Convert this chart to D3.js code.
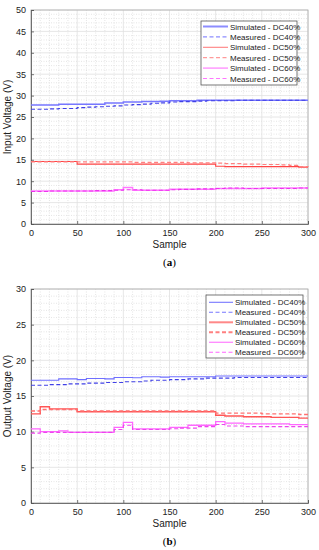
<!DOCTYPE html>
<html><head><meta charset="utf-8">
<script src="https://cdn.jsdelivr.net/npm/d3@7"></script>
<style>body{margin:0;background:#fff}svg{display:block}</style>
</head><body><svg id="c" width="319" height="550"></svg>
<script>
const samples = d3.range(0, 301, 10);
const xTicks = [0, 50, 100, 150, 200, 250, 300];
const yTicksA = [0, 5, 10, 15, 20, 25, 30, 35, 40, 45, 50];
const yTicksB = [0, 5, 10, 15, 20, 25, 30];
const seriesNames = ["Simulated - DC40%", "Measured - DC40%", "Simulated - DC50%", "Measured - DC50%", "Simulated - DC60%", "Measured - DC60%"];

const simDC40a = [27.8,27.8,27.8,28.0,28.0,28.0,28.0,28.0,28.3,28.3,28.5,28.5,28.6,28.6,28.7,28.8,28.8,28.8,28.9,28.9,28.9,28.9,28.9,28.9,28.9,28.9,28.9,28.9,28.9,28.9,28.9];
const measDC40a = [26.8,26.8,26.9,27.0,27.0,27.2,27.3,27.4,27.5,27.6,27.8,27.9,28.0,28.2,28.3,28.5,28.6,28.6,28.7,28.8,28.8,28.8,28.9,28.9,28.9,28.9,28.9,28.9,28.9,28.9,28.9];
const simDC50a = [14.6,14.6,14.6,14.6,14.6,14.0,14.0,14.0,14.0,14.0,14.0,14.0,14.0,14.0,14.0,14.0,14.0,14.0,14.0,14.0,13.5,13.4,13.4,13.4,13.4,13.4,13.4,13.4,13.4,13.3,13.3];
const measDC50a = [14.5,14.5,14.5,14.5,14.5,14.5,14.5,14.5,14.5,14.5,14.5,14.4,14.4,14.4,14.4,14.4,14.4,14.3,14.3,14.3,14.2,14.1,14.1,14.0,14.0,13.9,13.9,13.8,13.7,13.4,13.3];
const simDC60a = [7.7,7.7,7.7,7.7,7.7,7.7,7.7,7.7,7.7,8.0,8.5,7.9,7.9,7.9,7.9,8.1,8.1,8.1,8.1,8.1,8.3,8.3,8.3,8.3,8.3,8.4,8.4,8.4,8.4,8.4,8.4];
const measDC60a = [7.6,7.6,7.7,7.7,7.7,7.7,7.7,7.8,7.8,7.9,8.0,8.0,7.9,7.9,7.9,8.0,8.1,8.1,8.2,8.2,8.3,8.4,8.4,8.3,8.3,8.3,8.3,8.3,8.3,8.4,8.4];

const simDC40b = [17.2,17.2,17.2,17.4,17.4,17.3,17.45,17.45,17.4,17.6,17.6,17.55,17.7,17.7,17.65,17.7,17.7,17.7,17.7,17.7,17.8,17.8,17.8,17.8,17.8,17.8,17.8,17.8,17.8,17.8,17.8];
const measDC40b = [16.5,16.5,16.6,16.6,16.7,16.7,16.8,16.8,16.9,16.9,17.0,17.0,17.1,17.2,17.2,17.3,17.3,17.4,17.4,17.5,17.5,17.5,17.6,17.6,17.6,17.6,17.6,17.6,17.6,17.6,17.6];
const simDC50b = [12.5,13.5,13.2,13.2,13.2,12.8,12.8,12.8,12.8,12.8,12.8,12.8,12.8,12.8,12.8,12.8,12.8,12.8,12.8,12.8,12.3,12.2,12.2,12.1,12.1,12.1,12.0,12.0,12.0,11.9,11.9];
const measDC50b = [12.9,13.1,13.1,13.1,13.1,12.9,12.9,12.9,12.9,12.9,12.9,12.9,12.9,12.9,12.9,12.9,12.9,12.9,12.9,12.9,12.6,12.6,12.6,12.6,12.6,12.5,12.5,12.5,12.5,12.4,12.4];
const simDC60b = [10.4,10.0,10.0,10.1,9.9,9.9,9.9,9.9,9.9,10.6,11.3,10.4,10.4,10.4,10.4,10.6,10.6,10.9,10.9,10.9,11.4,11.2,11.2,11.1,11.1,11.1,11.1,11.1,11.0,11.0,11.0];
const measDC60b = [9.8,9.9,9.9,9.9,9.9,9.9,9.9,9.9,9.9,10.3,10.9,10.3,10.3,10.3,10.3,10.4,10.5,10.5,10.7,10.7,11.0,10.8,10.8,10.7,10.7,10.7,10.7,10.7,10.7,10.7,10.7];

const svg = d3.select("#c");
const FONT = "Liberation Sans, Arial, sans-serif";

function drawChart(cfg) {
  const {top, bottom, left, right, yMax, yTicks, yLabel, tag, series, legend} = cfg;
  const x = d3.scaleLinear().domain([0, 300]).range([left, right]);
  const y = d3.scaleLinear().domain([0, yMax]).range([bottom, top]);
  const g = svg.append("g");
  const minorX = d3.range(0, 301, 10).filter(v => v % 50 !== 0);
  const minorY = d3.range(0, yMax + 0.01, 1).filter(v => v % 5 !== 0);
  g.selectAll(".mx").data(minorX).join("line")
    .attr("x1", d => x(d)).attr("x2", d => x(d)).attr("y1", top).attr("y2", bottom)
    .attr("stroke", "#d4d4d4").attr("stroke-width", 0.6).attr("stroke-dasharray", "1,1.5");
  g.selectAll(".my").data(minorY).join("line")
    .attr("y1", d => y(d)).attr("y2", d => y(d)).attr("x1", left).attr("x2", right)
    .attr("stroke", "#d4d4d4").attr("stroke-width", 0.6).attr("stroke-dasharray", "1,1.5");
  g.selectAll(".gx").data(xTicks).join("line")
    .attr("x1", d => x(d)).attr("x2", d => x(d)).attr("y1", top).attr("y2", bottom)
    .attr("stroke", "#e0e0e0").attr("stroke-width", 0.8);
  g.selectAll(".gy").data(yTicks).join("line")
    .attr("y1", d => y(d)).attr("y2", d => y(d)).attr("x1", left).attr("x2", right)
    .attr("stroke", "#e0e0e0").attr("stroke-width", 0.8);
  g.append("rect").attr("x", left).attr("y", top).attr("width", right - left).attr("height", bottom - top)
    .attr("fill", "none").attr("stroke", "#aaa").attr("stroke-width", 0.8);
  const ax = g.append("g").attr("transform", `translate(0,${bottom})`)
    .call(d3.axisBottom(x).tickValues(xTicks).tickSize(-3).tickPadding(6));
  const ay = g.append("g").attr("transform", `translate(${left},0)`)
    .call(d3.axisLeft(y).tickValues(yTicks).tickSize(-3).tickPadding(5));
  [ax, ay].forEach(a => {
    a.select(".domain").attr("stroke", "#555").attr("stroke-width", 0.8);
    a.selectAll(".tick line").attr("stroke", "#555").attr("stroke-width", 0.8);
    a.selectAll("text").attr("font-family", FONT).attr("font-size", 9).attr("fill", "#222");
  });
  const line = d3.line().x((d, i) => x(samples[i])).y(d => y(d)).curve(d3.curveStepAfter);
  series.forEach(s => {
    g.append("path").attr("d", line(s.values)).attr("fill", "none")
      .attr("stroke", s.color).attr("stroke-width", s.width)
      .attr("stroke-dasharray", s.dash ? "4,2.5" : null);
  });
  g.append("text").attr("x", (left + right) / 2).attr("y", cfg.sampleY).attr("text-anchor", "middle")
    .attr("font-family", FONT).attr("font-size", 10).attr("fill", "#222").text("Sample");
  g.append("text").attr("transform", `translate(11,${(top + bottom) / 2}) rotate(-90)`)
    .attr("text-anchor", "middle").attr("font-family", FONT).attr("font-size", 10).attr("fill", "#222").text(yLabel);
  const tg = g.append("text").attr("x", (left + right) / 2).attr("y", cfg.tagY).attr("text-anchor", "middle")
    .attr("font-family", "Liberation Serif, Times New Roman, serif").attr("font-size", 11).attr("fill", "#000");
  tg.append("tspan").text("(");
  tg.append("tspan").attr("font-weight", "bold").text(tag);
  tg.append("tspan").text(")");
  const L = legend;
  g.append("rect").attr("x", L.x).attr("y", L.y).attr("width", L.w).attr("height", L.h)
    .attr("fill", "#fff").attr("stroke", "#555").attr("stroke-width", 0.8);
  series.forEach((s, i) => {
    const yy = L.y + L.first + i * L.step;
    g.append("line").attr("x1", L.lx1).attr("x2", L.lx2).attr("y1", yy).attr("y2", yy)
      .attr("stroke", s.lcolor || s.color).attr("stroke-width", s.lwidth || s.width)
      .attr("stroke-dasharray", s.dash ? "4,2.5" : null);
    g.append("text").attr("x", L.tx).attr("y", yy + 3).attr("font-family", FONT).attr("font-size", 8)
      .attr("fill", "#222").text(seriesNames[i]);
  });
}

drawChart({
  top: 10, bottom: 224, left: 31, right: 308, yMax: 50, yTicks: yTicksA,
  yLabel: "Input Voltage (V)", tag: "a", sampleY: 248, tagY: 266,
  series: [
    {values: simDC40a, color: "#7777ff", width: 1.5, lwidth: 2, lcolor: "#8d8dff"},
    {values: measDC40a, color: "#4040e6", width: 1.1, dash: true, lcolor: "#8d8dff"},
    {values: simDC50a, color: "#ff4444", width: 1.1, lcolor: "#ff8080"},
    {values: measDC50a, color: "#ff8080", width: 1.2, dash: true, lcolor: "#ff9a9a"},
    {values: simDC60a, color: "#ff77ff", width: 1.5, lcolor: "#ff99ff"},
    {values: measDC60a, color: "#ee33ee", width: 1.1, dash: true, lcolor: "#ff77ff"}
  ],
  legend: {x: 201, y: 21, w: 96, h: 64, first: 5.5, step: 10.4, lx1: 203, lx2: 228, tx: 230}
});

drawChart({
  top: 289, bottom: 503, left: 31, right: 308, yMax: 30, yTicks: yTicksB,
  yLabel: "Output Voltage (V)", tag: "b", sampleY: 527, tagY: 545,
  series: [
    {values: simDC40b, color: "#6f6fff", width: 1.1, lcolor: "#7777ff"},
    {values: measDC40b, color: "#4040e6", width: 1.1, dash: true, lcolor: "#7777ff"},
    {values: simDC50b, color: "#ff5555", width: 1.4, lwidth: 2, lcolor: "#ff8888"},
    {values: measDC50b, color: "#ff7070", width: 1.4, dash: true, lwidth: 2, lcolor: "#ff8080"},
    {values: simDC60b, color: "#ff66ff", width: 1.3, lcolor: "#ff88ff"},
    {values: measDC60b, color: "#ee44ee", width: 1.1, dash: true, lcolor: "#ff66ff"}
  ],
  legend: {x: 206, y: 295, w: 97, h: 63, first: 7.3, step: 10, lx1: 209, lx2: 233, tx: 235}
});
</script></body></html>
